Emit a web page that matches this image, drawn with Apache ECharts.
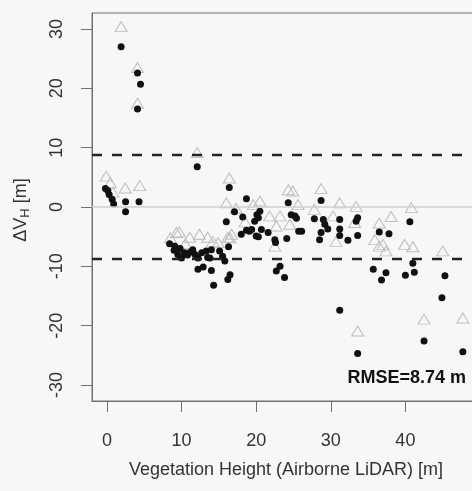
<!DOCTYPE html>
<html>
<head>
<meta charset="utf-8">
<script src="https://cdn.jsdelivr.net/npm/echarts@6/dist/echarts.min.js"></script>
<style>
  html, body { margin: 0; padding: 0; background: #f7f7f7; }
  #chart { width: 472px; height: 491px; }
</style>
</head>
<body>
<div id="chart"></div>
<script>
// Height error of the estimate (filled dots) and of the alternative estimate (open triangles)
const dotsX = [
  -0.2, 0.1, 0.3, 0.7, 0.9, 2.5, 2.5, 4.3,
  1.9, 4.1, 4.5, 4.1, 12.1,
  8.4, 9.1, 9.8, 9.0, 9.5, 10.0, 10.4, 10.8, 11.2, 11.5, 11.8, 12.2, 12.7, 13.3, 13.5, 14.0, 13.8, 15.1, 15.5, 15.8, 16.3,
  12.2, 12.9, 14.0, 16.5, 16.2, 14.3,
  16.4, 18.7, 17.1, 16.0, 18.2, 20.5, 20.1, 20.3, 19.8, 18.0, 18.7, 19.1, 19.4, 20.0, 20.3, 20.7, 21.6, 22.5, 22.6, 24.1,
  24.3, 24.7, 25.2, 25.4, 25.7, 26.1, 23.2, 22.7, 23.8,
  28.7, 27.8, 29.0, 29.2, 29.6, 28.7, 28.5, 31.2, 31.2, 31.2, 32.3, 33.4, 33.6, 33.6,
  36.5, 37.8, 35.7, 36.8, 37.4, 40.6, 41.0, 41.2, 40.0, 45.3, 44.9, 31.2, 33.6, 42.5, 47.7
];
const dotsY = [
  3.1, 2.8, 2.1, 1.3, 0.5, 0.9, -0.8, 0.9,
  27.0, 22.6, 20.7, 16.5, 6.8,
  -6.2, -6.6, -7.0, -7.3, -8.0, -8.6, -7.7, -8.1, -7.6, -7.2, -8.0, -8.6, -7.7, -7.4, -8.5, -7.2, -8.6, -7.4, -8.3, -9.1, -6.7,
  -10.5, -10.1, -10.7, -11.4, -12.2, -13.2,
  3.3, 1.4, -0.8, -2.5, -1.7, -0.7, -1.3, -1.8, -2.4, -4.6, -3.9, -4.1, -3.8, -4.9, -5.0, -3.8, -4.3, -5.5, -6.0, -5.3,
  0.7, -1.3, -1.5, -1.9, -4.1, -4.1, -10.0, -10.8, -11.9,
  1.1, -2.0, -2.1, -2.9, -3.7, -4.3, -5.5, -2.1, -3.7, -4.8, -5.6, -2.4, -1.8, -4.8,
  -4.2, -4.5, -10.5, -12.3, -11.1, -2.5, -9.5, -11.0, -11.5, -11.6, -15.3, -17.4, -24.7, -22.6, -24.4
];
const trianglesX = [
  -0.1, 0.45, 0.8, 2.45, 4.4, 1.9, 4.1, 4.1, 12.1,
  8.5, 9.3, 9.7, 10.5, 11.1, 12.4, 13.5, 14.2, 14.9, 16.2, 16.7,
  16.4, 16.0, 17.3, 18.5, 19.6, 20.5, 24.3, 21.8, 23.2, 22.7, 24.5, 16.5, 22.5,
  28.7, 25.6, 31.2, 30.3, 30.7, 27.8, 33.4, 33.2, 36.5, 35.9, 36.5, 24.9,
  40.8, 38.1, 37.0, 39.9, 41.0, 45.0, 37.4,
  33.6, 42.5, 47.7
];
const trianglesY = [
  5.2, 4.1, 2.5, 3.2, 3.6, 30.4, 23.5, 17.5, 9.2,
  -5.2, -4.3, -4.2, -6.2, -5.1, -4.6, -5.1, -5.8, -6.0, -5.1, -4.6,
  4.9, 0.7, -0.2, -2.5, 0.4, 1.0, 2.9, -1.5, -1.5, -3.2, -2.9, -5.2, -6.6,
  3.1, 0.4, 0.7, -1.5, -5.8, -0.4, 0.1, -2.6, -2.7, -5.5, -6.6, 2.7,
  -0.1, -1.6, -6.3, -6.3, -6.7, -7.4, -7.4,
  -20.9, -18.9, -18.7
];
const xTicks = [0, 10, 20, 30, 40];
const yTicks = [-30, -20, -10, 0, 10, 20, 30];
const xRange = [-2, 50];
const yRange = [-32.7, 32.7];
const rmse = 8.74;

const zip = (xs, ys) => xs.map((x, i) => [x, ys[i]]);
const font = '"Liberation Sans", Arial, Helvetica, sans-serif';
const frame = '#707070';
const plotBox = { left: 92, top: 13, bottom: 90, right: -8, outerBoundsMode: 'none' };

const hiddenAxis = {
  axisLine: { show: false, onZero: false },
  axisTick: { show: false },
  axisLabel: { show: false },
  splitLine: { show: false }
};

const chart = echarts.init(document.getElementById('chart'), null, { renderer: 'canvas' });
chart.setOption({
  backgroundColor: '#f7f7f7',
  animation: false,
  grid: [
    // grid 0 holds the data, grid 1 the frame, ticks and tick labels
    Object.assign({ show: false }, plotBox),
    Object.assign({ show: true, borderColor: frame, borderWidth: 1, backgroundColor: 'transparent' }, plotBox)
  ],
  xAxis: [
    Object.assign({ type: 'value', gridIndex: 0, min: xRange[0], max: xRange[1] }, hiddenAxis),
    {
      type: 'value', gridIndex: 1, min: xRange[0], max: xRange[1], position: 'bottom',
      axisLine: { show: true, onZero: false, lineStyle: { color: frame, width: 1 } },
      splitLine: { show: false },
      axisTick: { show: true, customValues: xTicks, length: 11, lineStyle: { color: frame, width: 1 } },
      axisLabel: { customValues: xTicks, margin: 31, fontSize: 18, color: '#333', fontFamily: font }
    }
  ],
  yAxis: [
    Object.assign({ type: 'value', gridIndex: 0, min: yRange[0], max: yRange[1] }, hiddenAxis),
    {
      type: 'value', gridIndex: 1, min: yRange[0], max: yRange[1], position: 'left',
      axisLine: { show: true, onZero: false, lineStyle: { color: frame, width: 1 } },
      splitLine: { show: false },
      axisTick: { show: true, customValues: yTicks, length: 11, lineStyle: { color: frame, width: 1 } },
      axisLabel: { customValues: yTicks, rotate: 90, margin: 26, fontSize: 18, color: '#333', fontFamily: font }
    }
  ],
  series: [
    {
      type: 'scatter',
      name: 'triangles',
      xAxisIndex: 0, yAxisIndex: 0,
      data: zip(trianglesX, trianglesY),
      symbol: 'triangle',
      symbolSize: [12, 10],
      itemStyle: { color: 'transparent', borderColor: '#bdbdbd', borderWidth: 1, opacity: 1 },
      z: 2
    },
    {
      type: 'scatter',
      name: 'dots',
      xAxisIndex: 0, yAxisIndex: 0,
      data: zip(dotsX, dotsY),
      symbol: 'circle',
      symbolSize: 7,
      itemStyle: { color: '#111', opacity: 1 },
      z: 4,
      markLine: {
        silent: true,
        symbol: 'none',
        label: { show: false },
        data: [
          { yAxis: 0, lineStyle: { color: '#cfcfcf', width: 1.5, type: 'solid' } },
          { yAxis: rmse, lineStyle: { color: '#222', width: 2.3, type: [10, 10] } },
          { yAxis: -rmse, lineStyle: { color: '#222', width: 2.3, type: [10, 10] } }
        ]
      }
    }
  ],
  graphic: [
    {
      // x-axis title
      type: 'text',
      x: 286, y: 470,
      style: {
        text: 'Vegetation Height (Airborne LiDAR) [m]',
        fontFamily: font, fontSize: 18, fill: '#333',
        align: 'center', verticalAlign: 'middle'
      }
    },
    {
      // y-axis title, read bottom to top
      type: 'text',
      x: 21, y: 210,
      rotation: Math.PI / 2,
      style: {
        text: '{a|ΔV}{s|H}{a| [m]}',
        fontFamily: font, fill: '#333',
        align: 'center', verticalAlign: 'middle',
        rich: {
          a: { fontSize: 18, fill: '#333', fontFamily: font, lineHeight: 22 },
          s: { fontSize: 13, fill: '#333', fontFamily: font, lineHeight: 22, verticalAlign: 'bottom', padding: [6, 0, 0, 0] }
        }
      }
    },
    {
      type: 'text',
      right: 6, top: 369,
      style: {
        text: 'RMSE=' + rmse.toFixed(2) + ' m',
        fontFamily: font, fontSize: 18, fontWeight: 'bold', fill: '#111'
      }
    }
  ]
});
</script>
</body>
</html>
